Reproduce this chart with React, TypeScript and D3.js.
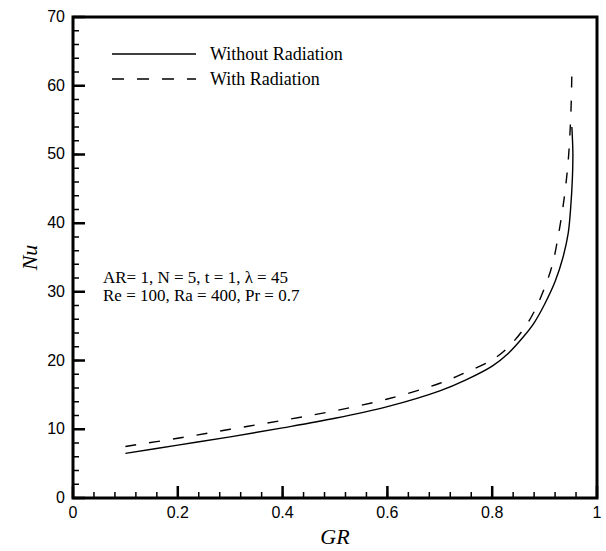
import React from "react";
import * as d3 from "d3";

const solidGR = [0.1, 0.2, 0.3, 0.4, 0.5, 0.6, 0.7, 0.75, 0.8, 0.83, 0.86, 0.88, 0.9, 0.92, 0.935, 0.945, 0.95, 0.953, 0.954, 0.953, 0.952];
const solidNu = [6.5, 7.7, 8.9, 10.2, 11.6, 13.3, 15.6, 17.2, 19.2, 21.0, 23.5, 25.5, 28.2, 31.5, 35.0, 38.5, 42.5, 46.5, 50.0, 52.5, 54.0];
const dashGR = [0.1, 0.2, 0.3, 0.4, 0.5, 0.6, 0.7, 0.75, 0.8, 0.83, 0.86, 0.88, 0.9, 0.915, 0.928, 0.938, 0.945, 0.949, 0.951, 0.952];
const dashNu = [7.5, 8.7, 10.0, 11.3, 12.7, 14.4, 16.7, 18.3, 20.1, 21.9, 24.6, 27.1, 30.6, 34.0, 39.0, 44.0, 49.0, 54.0, 58.0, 62.0];
const xTicks = [0, 0.2, 0.4, 0.6, 0.8, 1];
const xTickLabels = ["0", "0.2", "0.4", "0.6", "0.8", "1"];
const yTicks = [0, 10, 20, 30, 40, 50, 60, 70];
const legendLabels = ["Without Radiation", "With Radiation"];
const noteLines = ["AR= 1, N = 5, t = 1, \u03bb = 45", "Re = 100, Ra = 400, Pr = 0.7"];

export default function App() {
  const L = 73, R = 597, T = 17, B = 498;
  const x = d3.scaleLinear().domain([0, 1]).range([L, R]);
  const y = d3.scaleLinear().domain([0, 70]).range([B, T]);
  const line = d3.line<[number, number]>().x(d => x(d[0])).y(d => y(d[1])).curve(d3.curveCatmullRom.alpha(0.5));
  const solid = solidGR.map((g, i) => [g, solidNu[i]] as [number, number]);
  const dash = dashGR.map((g, i) => [g, dashNu[i]] as [number, number]);
  const xMinor = d3.range(0, 25).map(i => i * 0.04);
  const yMinor = d3.range(0, 36).map(i => i * 2);
  const sans = "'Liberation Sans', Arial, sans-serif";
  const serif = "'Liberation Serif', 'Times New Roman', serif";

  const minorPath =
    xMinor.map(v => `M${x(v)},${B}V${B - 6}`).join("") +
    yMinor.map(v => `M${L},${y(v)}H${L + 6}`).join("");
  const majorPath =
    xTicks.map(v => `M${x(v)},${B}V${B - 12}`).join("") +
    yTicks.map(v => `M${L},${y(v)}H${L + 12}`).join("");
  const framePath = `M${L},${T}H${R}V${B}H${L}Z`;

  return (
    <svg width={606} height={551} style={{ position: "absolute", left: 0, top: 0, background: "#fff" }}>
      <rect width={606} height={551} fill="#fff" />
      <path d={minorPath} fill="none" stroke="#000" strokeWidth={1.5} />
      <path d={majorPath} fill="none" stroke="#000" strokeWidth={2.5} />
      <path d={framePath} fill="none" stroke="#000" strokeWidth={3} strokeLinejoin="miter" />
      {xTicks.map((v, i) => (
        <text key={"xl" + i} x={x(v)} y={B + 20} fontFamily={sans} fontSize={16} textAnchor="middle">{xTickLabels[i]}</text>
      ))}
      {yTicks.map((v, i) => (
        <text key={"yl" + i} x={L - 8} y={y(v) + 5} fontFamily={sans} fontSize={16} textAnchor="end">{String(v)}</text>
      ))}
      <text x={(L + R) / 2} y={544} fontFamily={serif} fontStyle="italic" fontSize={22} textAnchor="middle">GR</text>
      <text transform={`translate(37,${(T + B) / 2}) rotate(-90)`} fontFamily={serif} fontStyle="italic" fontSize={22} textAnchor="middle">Nu</text>
      <path d={line(solid) || ""} fill="none" stroke="#000" strokeWidth={1.4} />
      <path d={line(dash) || ""} fill="none" stroke="#000" strokeWidth={1.4} strokeDasharray="11,13" />
      <path d={`M112,54H196`} fill="none" stroke="#000" strokeWidth={1.4} />
      <path d={`M112,79H196`} fill="none" stroke="#000" strokeWidth={1.4} strokeDasharray="12,13" />
      <text x={210} y={60} fontFamily={serif} fontSize={18}>{legendLabels[0]}</text>
      <text x={210} y={85} fontFamily={serif} fontSize={18}>{legendLabels[1]}</text>
      <text x={103} y={283} fontFamily={serif} fontSize={17}>{noteLines[0]}</text>
      <text x={103} y={301} fontFamily={serif} fontSize={17}>{noteLines[1]}</text>
    </svg>
  );
}
